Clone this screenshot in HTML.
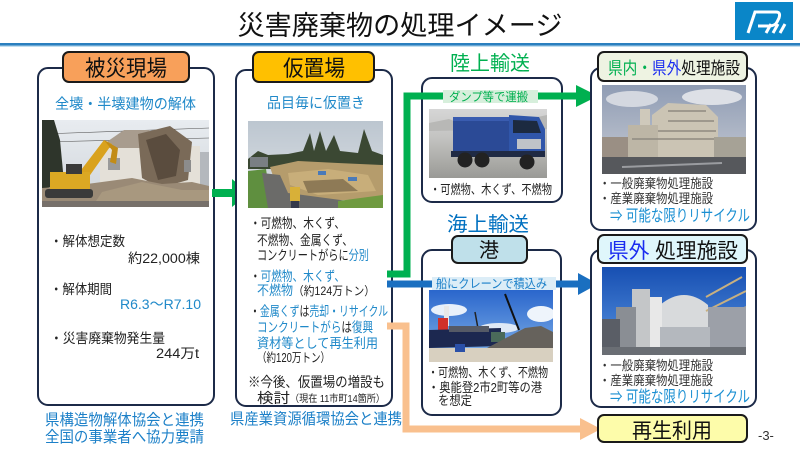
<!DOCTYPE html>
<html><head><meta charset="utf-8"><style>
html,body{margin:0;padding:0;background:#fff;}
svg{display:block;}
text{font-family:"Liberation Sans","Noto Sans CJK JP",sans-serif;}
</style></head><body>
<svg width="800" height="450" viewBox="0 0 800 450" xmlns="http://www.w3.org/2000/svg">
<defs>
<linearGradient id="sky1" x1="0" y1="0" x2="0" y2="1"><stop offset="0" stop-color="#e8ecf0"/><stop offset="1" stop-color="#cfd4da"/></linearGradient>
<linearGradient id="sky2" x1="0" y1="0" x2="0" y2="1"><stop offset="0" stop-color="#bcc6d0"/><stop offset="1" stop-color="#dfe3e6"/></linearGradient>
<linearGradient id="sky3" x1="0" y1="0" x2="0" y2="1"><stop offset="0" stop-color="#d6d6d6"/><stop offset="0.4" stop-color="#c4c4c2"/><stop offset="1" stop-color="#9a9a96"/></linearGradient>
<linearGradient id="sky4" x1="0" y1="0" x2="0" y2="1"><stop offset="0" stop-color="#2a66cc"/><stop offset="1" stop-color="#86b6ea"/></linearGradient>
<linearGradient id="sky5" x1="0" y1="0" x2="0" y2="1"><stop offset="0" stop-color="#8f9cb4"/><stop offset="1" stop-color="#c8ccd4"/></linearGradient>
<linearGradient id="sky6" x1="0" y1="0" x2="0" y2="1"><stop offset="0" stop-color="#174fb2"/><stop offset="1" stop-color="#5a96e2"/></linearGradient>
</defs>

<!-- Title -->
<text x="400" y="35" text-anchor="middle" font-size="27" fill="#111" textLength="325" lengthAdjust="spacingAndGlyphs">災害廃棄物の処理イメージ</text>
<rect x="0" y="43" width="800" height="2.5" fill="#2a7fbf"/>
<rect x="0" y="45.5" width="800" height="1.2" fill="#a9cfe8"/>
<!-- Logo -->
<rect x="735" y="2" width="58" height="38" fill="#0a86c8"/>
<path d="M748 33 L755 12 L776 12 Q781 12 779 18 L777 22 Q775 26 769 26 L758 26" fill="none" stroke="#fff" stroke-width="3"/>
<path d="M766 33 L771 24 M773 33 L778 24 M780 33 L785 24" stroke="#fff" stroke-width="3"/>

<!-- ===== Column 1 ===== -->
<rect x="38" y="68" width="176" height="337" rx="10" fill="#fff" stroke="#1c2a48" stroke-width="2"/>
<rect x="63" y="52" width="126" height="30" rx="6" fill="#f8a05a" stroke="#1a1a1a" stroke-width="2"/>
<text x="126" y="76" text-anchor="middle" font-size="22" fill="#111" textLength="82" lengthAdjust="spacingAndGlyphs">被災現場</text>
<text x="55" y="109" font-size="14.5" fill="#2089c9" textLength="141" lengthAdjust="spacingAndGlyphs">全壊・半壊建物の解体</text>
<svg x="42" y="120" width="167" height="87">
<rect width="167" height="87" fill="url(#sky1)"/>
<path d="M0 14 L167 8 M0 22 L167 18" stroke="#555" stroke-width="0.6"/>
<path d="M0 0 L12 0 L18 20 L22 62 L0 70 Z" fill="#2e352b"/>
<rect x="150" y="32" width="17" height="40" fill="#b4b8bd"/>
<rect x="58" y="26" width="100" height="46" fill="#e4e0d8"/>
<path d="M56 28 L82 10 L108 10 L100 28 Z" fill="#a89c8e"/>
<path d="M96 14 L128 6 L150 22 L146 60 L118 68 L100 58 Z" fill="#7a6a58"/>
<path d="M104 20 L124 14 L138 30 L134 56 L116 60 Z" fill="#5a4c3e"/>
<rect x="66" y="38" width="12" height="12" fill="#9a9a9a"/>
<rect x="142" y="40" width="7" height="12" fill="#8c8c8c"/>
<path d="M0 68 L30 66 L60 62 L90 58 L120 64 L150 62 L167 66 L167 87 L0 87 Z" fill="#9a8a76"/>
<path d="M60 72 L100 62 L140 70 L167 70 L167 87 L50 87 Z" fill="#a8987f"/>
<rect x="0" y="81" width="167" height="6" fill="#77706a"/>
<path d="M36 54 L62 20 L70 24 L46 58 Z" fill="#d9a21e"/>
<path d="M62 20 L76 28 L74 44 L68 42 L70 30 Z" fill="#c28c16"/>
<rect x="8" y="52" width="40" height="18" fill="#dba823"/>
<rect x="24" y="44" width="16" height="10" fill="#3a3a3a"/>
<rect x="3" y="69" width="48" height="9" rx="3" fill="#3a3a3a"/>
</svg>
<text x="50" y="246" font-size="13.5" fill="#222" textLength="75" lengthAdjust="spacingAndGlyphs">・解体想定数</text>
<text x="128" y="263" font-size="13.5" fill="#222" textLength="72" lengthAdjust="spacingAndGlyphs">約22,000棟</text>
<text x="50" y="294" font-size="13.5" fill="#222" textLength="62" lengthAdjust="spacingAndGlyphs">・解体期間</text>
<text x="120" y="309" font-size="14" fill="#2089c9" textLength="81" lengthAdjust="spacingAndGlyphs">R6.3～R7.10</text>
<text x="50" y="343" font-size="13.5" fill="#222" textLength="115" lengthAdjust="spacingAndGlyphs">・災害廃棄物発生量</text>
<text x="156" y="358" font-size="13.5" fill="#222" textLength="43" lengthAdjust="spacingAndGlyphs">244万t</text>
<text x="45" y="425" font-size="15.5" fill="#1c80c8" textLength="159" lengthAdjust="spacingAndGlyphs">県構造物解体協会と連携</text>
<text x="45" y="442" font-size="15.5" fill="#1c80c8" textLength="159" lengthAdjust="spacingAndGlyphs">全国の事業者へ協力要請</text>

<!-- arrow col1 -> col2 -->
<rect x="212" y="189" width="22" height="8" fill="#00b050"/>
<path d="M232 179 L249 193 L232 207 Z" fill="#00b050"/>

<!-- ===== Column 2 ===== -->
<rect x="236" y="70" width="156" height="336" rx="10" fill="#fff" stroke="#1c2a48" stroke-width="2"/>
<rect x="253" y="52" width="121" height="30" rx="6" fill="#ffc000" stroke="#1a1a1a" stroke-width="2"/>
<text x="314" y="76" text-anchor="middle" font-size="22" fill="#111" textLength="62" lengthAdjust="spacingAndGlyphs">仮置場</text>
<text x="267" y="108" font-size="14.5" fill="#2089c9" textLength="98" lengthAdjust="spacingAndGlyphs">品目毎に仮置き</text>
<svg x="248" y="121" width="135" height="87">
<rect width="135" height="87" fill="url(#sky2)"/>
<path d="M0 38 L10 30 L20 34 L40 33 L55 30 L62 12 L66 30 L72 10 L78 30 L86 14 L92 30 L110 32 L116 8 L124 30 L135 34 L135 48 L0 48 Z" fill="#3b4833"/>
<rect x="2" y="36" width="18" height="10" fill="#7a7f84"/>
<path d="M22 46 L50 40 L90 42 L135 44 L135 78 L60 80 L30 70 Z" fill="#b59c6c"/>
<path d="M40 52 L80 48 L120 54 L128 70 L70 74 L42 64 Z" fill="#c8ae7a"/>
<path d="M55 60 L95 58 L110 70 L60 72 Z" fill="#8e7a56"/>
<rect x="70" y="50" width="8" height="4" fill="#4a7ab8"/>
<rect x="100" y="56" width="9" height="4" fill="#4a7ab8"/>
<path d="M0 50 L18 48 L24 87 L0 87 Z" fill="#5f8f3f"/>
<path d="M14 52 L32 54 L40 72 L100 80 L100 87 L20 87 Z" fill="#6b6b69"/>
<path d="M90 80 L135 74 L135 87 L90 87 Z" fill="#6f9a40"/>
<rect x="42" y="66" width="10" height="14" fill="#d8b038"/>
<rect x="43" y="80" width="8" height="7" fill="#33384a"/>
</svg>
<text x="250" y="228" font-size="13.5" fill="#222" textLength="95" lengthAdjust="spacingAndGlyphs">・可燃物、木くず、</text>
<text x="257" y="245" font-size="13.5" fill="#222" textLength="96" lengthAdjust="spacingAndGlyphs">不燃物、金属くず、</text>
<text x="257" y="260" font-size="13.5" fill="#222" textLength="112" lengthAdjust="spacingAndGlyphs">コンクリートがらに<tspan fill="#2089c9">分別</tspan></text>
<text x="250" y="281" font-size="13.5" fill="#222" textLength="95" lengthAdjust="spacingAndGlyphs">・<tspan fill="#2089c9">可燃物、木くず、</tspan></text>
<text x="257" y="295" font-size="13.5" fill="#222" textLength="118" lengthAdjust="spacingAndGlyphs"><tspan fill="#2089c9">不燃物</tspan><tspan font-size="12">（約124万トン）</tspan></text>
<text x="250" y="316" font-size="13.5" fill="#222" textLength="138" lengthAdjust="spacingAndGlyphs">・<tspan fill="#2089c9">金属くず</tspan>は<tspan fill="#2089c9">売却・リサイクル</tspan></text>
<text x="257" y="332" font-size="13.5" fill="#222" textLength="116" lengthAdjust="spacingAndGlyphs"><tspan fill="#2089c9">コンクリートがら</tspan>は<tspan fill="#2089c9">復興</tspan></text>
<text x="257" y="348" font-size="13.5" fill="#2089c9" textLength="121" lengthAdjust="spacingAndGlyphs">資材等として再生利用</text>
<text x="257" y="362" font-size="12.5" fill="#222" textLength="73" lengthAdjust="spacingAndGlyphs">（約120万トン）</text>
<text x="248" y="387" font-size="14" fill="#222" textLength="137" lengthAdjust="spacingAndGlyphs">※今後、仮置場の増設も</text>
<text x="257" y="403" font-size="14" fill="#222" textLength="33" lengthAdjust="spacingAndGlyphs">検討</text>
<text x="290" y="402" font-size="10" fill="#222" textLength="95" lengthAdjust="spacingAndGlyphs">（現在 11市町14箇所）</text>
<text x="230" y="424" font-size="15.5" fill="#1c80c8" textLength="172" lengthAdjust="spacingAndGlyphs">県産業資源循環協会と連携</text>

<!-- ===== Land transport ===== -->
<text x="450" y="70" font-size="20" fill="#00b050" textLength="80" lengthAdjust="spacingAndGlyphs">陸上輸送</text>
<rect x="422" y="78" width="140" height="124" rx="10" fill="#fff" stroke="#1c2a48" stroke-width="2"/>
<svg x="429" y="109" width="118" height="69">
<rect width="118" height="69" fill="url(#sky3)"/>
<path d="M0 14 L20 10 L30 14 L60 8 L90 12 L118 6 L118 20 L0 22 Z" fill="#b8b8b6"/>
<rect x="24" y="10" width="60" height="32" fill="#2b4a96"/>
<rect x="24" y="8" width="60" height="4" fill="#3a5cb0"/>
<path d="M80 6 L110 8 L116 20 L116 48 L80 48 Z" fill="#3056aa"/>
<path d="M84 11 L108 12 L112 24 L84 24 Z" fill="#1c2a40"/>
<rect x="88" y="30" width="24" height="10" fill="#bfc3c8"/>
<rect x="22" y="42" width="94" height="6" fill="#1f2a44"/>
<circle cx="36" cy="51" r="7.5" fill="#222"/>
<circle cx="53" cy="51" r="7.5" fill="#222"/>
<circle cx="98" cy="53" r="7.5" fill="#222"/>
</svg>
<text x="430" y="194" font-size="13" fill="#222" textLength="122" lengthAdjust="spacingAndGlyphs">・可燃物、木くず、不燃物</text>

<!-- ===== Sea transport ===== -->
<text x="447" y="231" font-size="20" fill="#0070c0" textLength="82" lengthAdjust="spacingAndGlyphs">海上輸送</text>
<rect x="422" y="250" width="139" height="165" rx="10" fill="#fff" stroke="#1c2a48" stroke-width="2"/>
<rect x="452" y="236" width="75" height="27" rx="6" fill="#bfe0ea" stroke="#1a1a1a" stroke-width="2"/>
<text x="489" y="257" text-anchor="middle" font-size="20" fill="#111">港</text>
<svg x="429" y="290" width="124" height="72">
<rect width="124" height="72" fill="url(#sky4)"/>
<ellipse cx="20" cy="20" rx="18" ry="6" fill="#e8f0fa"/>
<ellipse cx="112" cy="24" rx="14" ry="8" fill="#eef4fb"/>
<ellipse cx="70" cy="38" rx="20" ry="5" fill="#dfe9f6"/>
<path d="M76 4 L90 40" stroke="#111" stroke-width="2"/>
<path d="M46 22 L50 44" stroke="#222" stroke-width="1.5"/>
<rect x="15" y="16" width="5" height="20" fill="#e8e8e8"/>
<rect x="9" y="28" width="10" height="12" fill="#d0302a"/>
<path d="M0 40 L72 38 L72 56 L0 58 Z" fill="#1c2850"/>
<rect x="20" y="36" width="40" height="6" fill="#555a66"/>
<rect x="62" y="42" width="14" height="10" fill="#4a6a5a"/>
<path d="M58 58 L96 38 L112 36 L124 42 L124 62 L58 62 Z" fill="#66625c"/>
<rect x="0" y="58" width="124" height="14" fill="#d8d0c0"/>
<rect x="26" y="54" width="10" height="8" fill="#2a50a8"/>
</svg>
<text x="428" y="377" font-size="13" fill="#222" textLength="120" lengthAdjust="spacingAndGlyphs">・可燃物、木くず、不燃物</text>
<text x="428" y="392" font-size="13" fill="#222" textLength="114" lengthAdjust="spacingAndGlyphs">・奥能登2市2町等の港</text>
<text x="438" y="405" font-size="13" fill="#222" textLength="34" lengthAdjust="spacingAndGlyphs">を想定</text>

<!-- ===== Connectors ===== -->
<polyline points="387,274 407,274 407,96 580,96" fill="none" stroke="#00b050" stroke-width="7" stroke-linejoin="miter"/>
<path d="M576 85 L598 96 L576 107 Z" fill="#00b050"/>
<rect x="443" y="90" width="95" height="13" fill="#d7efdc"/>
<text x="449" y="101" font-size="12" fill="#00b050" textLength="79" lengthAdjust="spacingAndGlyphs">ダンプ等で運搬</text>

<rect x="387" y="280.5" width="193" height="7" fill="#1a6fc0"/>
<path d="M578 273 L598 284 L578 295 Z" fill="#1a6fc0"/>
<rect x="432" y="277" width="124" height="13" fill="#dcedf7"/>
<text x="436" y="288" font-size="12.5" fill="#1a7fc8" textLength="111" lengthAdjust="spacingAndGlyphs">船にクレーンで積込み</text>

<polyline points="387,326 406,326 406,429 582,429" fill="none" stroke="#f9c08e" stroke-width="7"/>
<path d="M580 418 L601 429 L580 440 Z" fill="#f9c08e"/>

<!-- ===== Column 4 top ===== -->
<rect x="591" y="68" width="165" height="162" rx="10" fill="#fff" stroke="#1c2a48" stroke-width="2"/>
<rect x="598" y="52" width="149" height="29" rx="6" fill="#eef3e2" stroke="#1a1a1a" stroke-width="2"/>
<text x="608" y="74" font-size="17" fill="#111" textLength="132" lengthAdjust="spacingAndGlyphs"><tspan fill="#00b050">県内</tspan><tspan fill="#00b050">・</tspan><tspan fill="#1a2cf0">県外</tspan>処理施設</text>
<svg x="602" y="85" width="144" height="89">
<rect width="144" height="89" fill="url(#sky5)"/>
<ellipse cx="30" cy="14" rx="26" ry="8" fill="#d4d8e0"/>
<ellipse cx="110" cy="12" rx="30" ry="8" fill="#dde0e6"/>
<rect x="38" y="24" width="10" height="26" fill="#cfc9bb"/>
<path d="M50 30 L66 18 L104 20 L116 32 L116 72 L50 72 Z" fill="#cbc4b4"/>
<rect x="26" y="40" width="30" height="32" fill="#bdb6a6"/>
<path d="M66 26 L104 26 M66 36 L112 36 M56 46 L114 46 M30 54 L114 54" stroke="#8f8a80" stroke-width="1.5"/>
<rect x="112" y="52" width="32" height="20" fill="#a6a296"/>
<rect x="0" y="52" width="26" height="20" fill="#9a8f84"/>
<rect x="0" y="72" width="144" height="17" fill="#56585c"/>
<path d="M20 82 L120 78" stroke="#9a9ca0" stroke-width="2"/>
</svg>
<text x="599" y="188" font-size="13" fill="#333" textLength="114" lengthAdjust="spacingAndGlyphs">・一般廃棄物処理施設</text>
<text x="599" y="203" font-size="13" fill="#333" textLength="114" lengthAdjust="spacingAndGlyphs">・産業廃棄物処理施設</text>
<text x="610" y="221" font-size="16" fill="#1a8fd2" textLength="140" lengthAdjust="spacingAndGlyphs">⇒ 可能な限りリサイクル</text>

<!-- ===== Column 4 bottom ===== -->
<rect x="591" y="250" width="165" height="157" rx="10" fill="#fff" stroke="#1c2a48" stroke-width="2"/>
<rect x="598" y="235" width="149" height="28" rx="6" fill="#dff6fb" stroke="#1a1a1a" stroke-width="2"/>
<text x="608" y="258" font-size="21" fill="#111" textLength="130" lengthAdjust="spacingAndGlyphs"><tspan fill="#1a2cf0">県外</tspan> 処理施設</text>
<svg x="602" y="267" width="144" height="88">
<rect width="144" height="88" fill="url(#sky6)"/>
<rect x="30" y="22" width="18" height="66" fill="#c4c6c8"/>
<rect x="14" y="40" width="20" height="48" fill="#8a8e94"/>
<rect x="0" y="52" width="18" height="36" fill="#5a5e66"/>
<path d="M58 38 Q82 18 106 38 L108 88 L56 88 Z" fill="#d8dadc"/>
<rect x="48" y="30" width="12" height="58" fill="#e8e8e8"/>
<path d="M104 30 L140 10 M104 44 L144 24 M110 60 L144 40" stroke="#c8b080" stroke-width="2"/>
<rect x="106" y="40" width="38" height="48" fill="#9ca0a8"/>
<rect x="58" y="60" width="50" height="20" fill="#b4b8be"/>
<rect x="0" y="80" width="144" height="8" fill="#6a6e74"/>
</svg>
<text x="599" y="370" font-size="13" fill="#333" textLength="114" lengthAdjust="spacingAndGlyphs">・一般廃棄物処理施設</text>
<text x="599" y="385" font-size="13" fill="#333" textLength="114" lengthAdjust="spacingAndGlyphs">・産業廃棄物処理施設</text>
<text x="610" y="402" font-size="16" fill="#1a8fd2" textLength="140" lengthAdjust="spacingAndGlyphs">⇒ 可能な限りリサイクル</text>

<!-- 再生利用 -->
<rect x="598" y="415" width="149" height="27" rx="6" fill="#fdfcaa" stroke="#1a1a1a" stroke-width="2"/>
<text x="672" y="438" text-anchor="middle" font-size="21" fill="#111" textLength="80" lengthAdjust="spacingAndGlyphs">再生利用</text>
<text x="758" y="440" font-size="13" fill="#333">-3-</text>
</svg>
</body></html>
